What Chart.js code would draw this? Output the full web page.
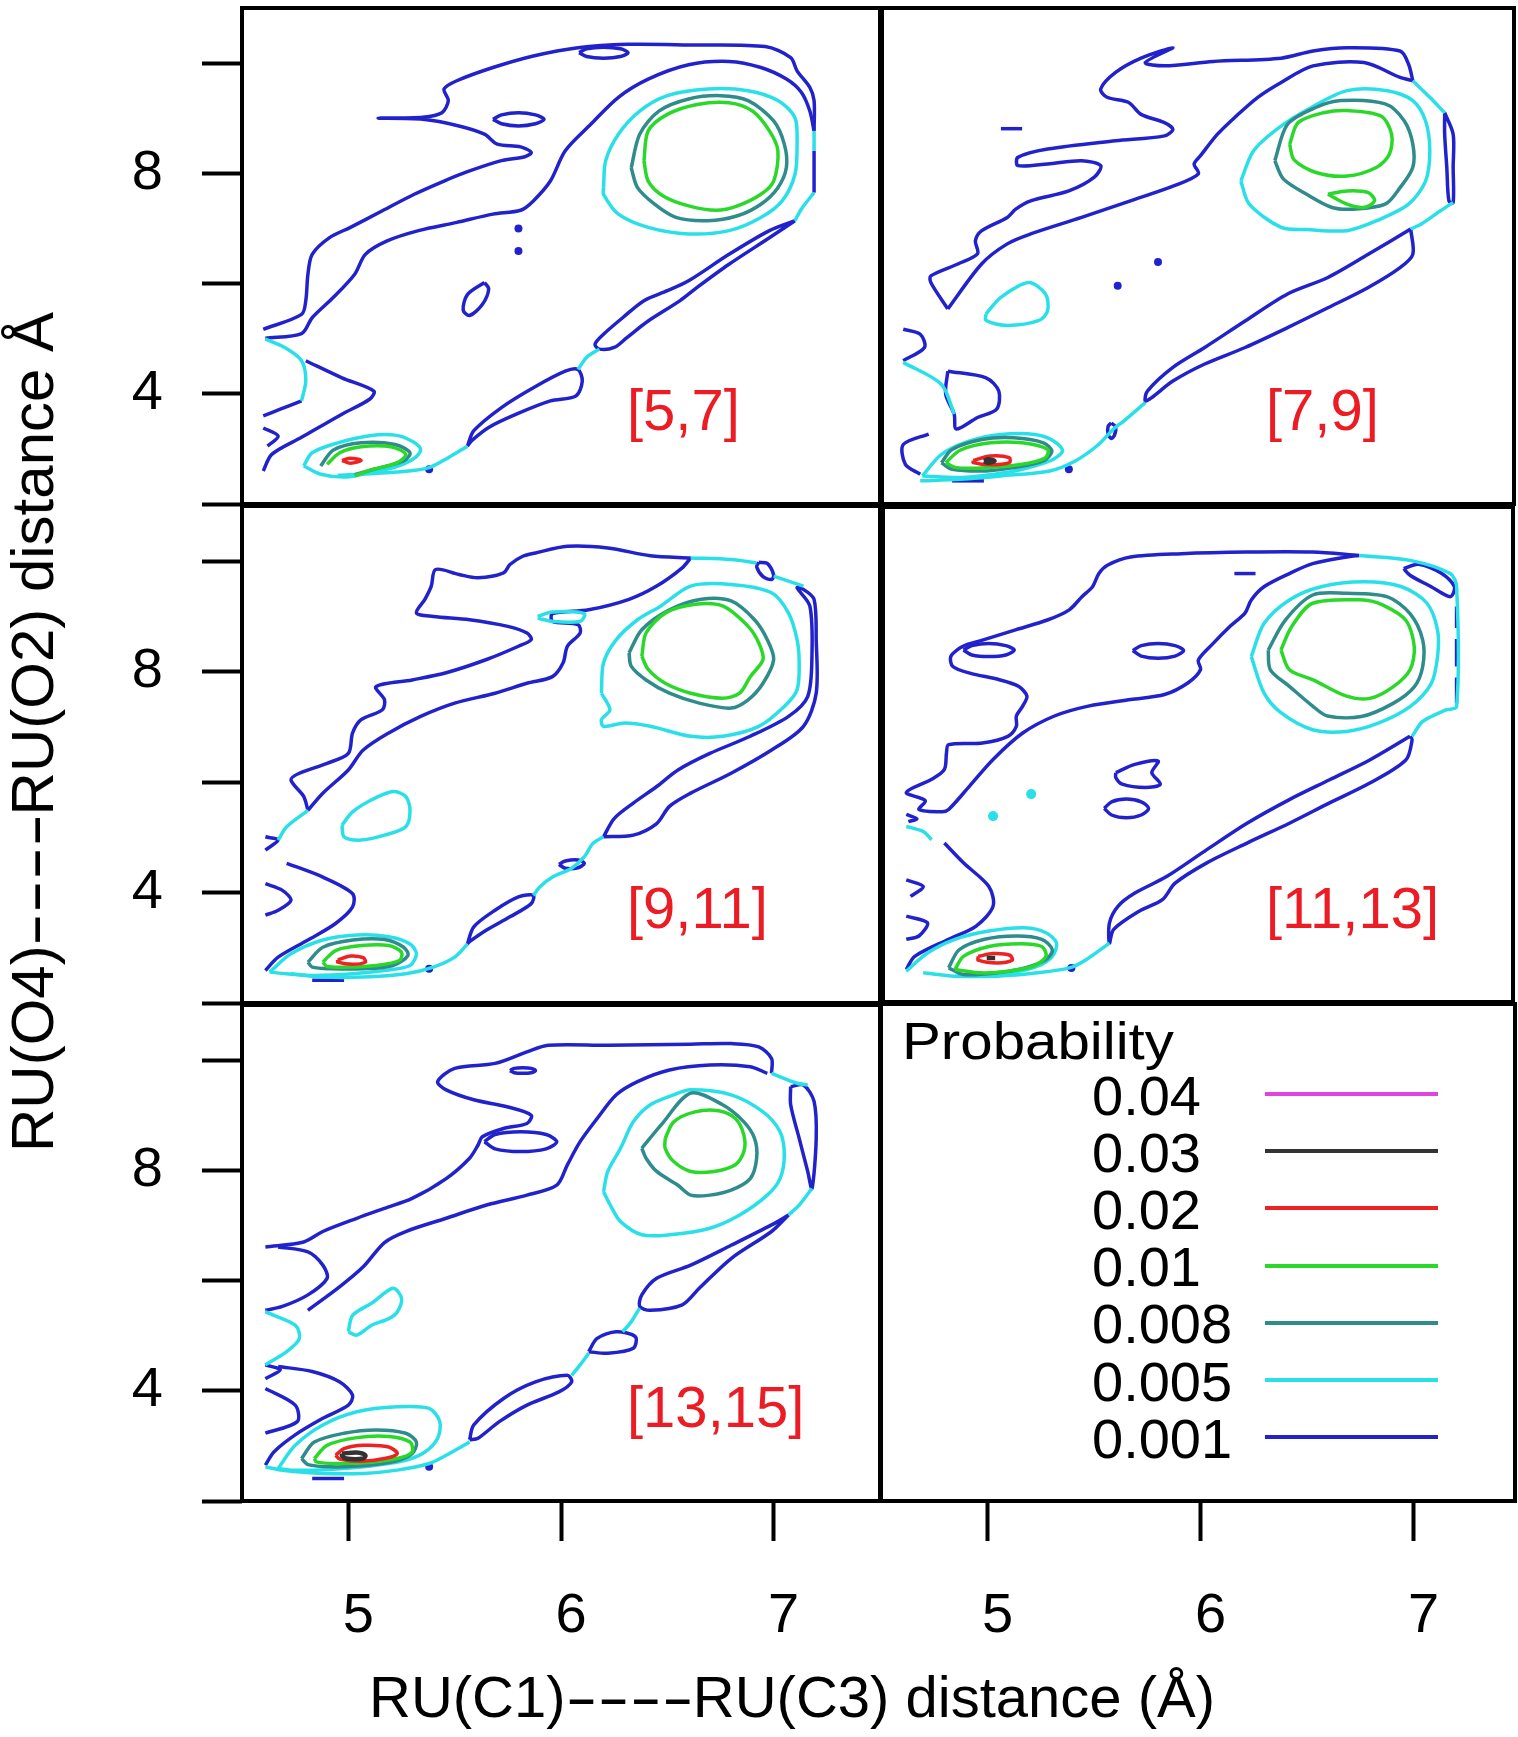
<!DOCTYPE html>
<html>
<head>
<meta charset="utf-8">
<title>Probability contours</title>
<script src="https://cdn.jsdelivr.net/npm/chart.js@4.4.1/dist/chart.umd.min.js"></script>
<style>
  html, body { margin: 0; padding: 0; background: #fff; }
  #fig { position: relative; width: 1518px; height: 1737px; overflow: hidden;
         font-family: 'Liberation Sans', Arial, Helvetica, sans-serif; color: #000; }
  #fig canvas { position: absolute; }
  .txt { position: absolute; white-space: nowrap; line-height: 1; }
  .tag { color: #ec1c24; font-size: 58px; }
  .title { font-size: 58px; }
  .dash { display: inline-block; transform: scaleX(1.66); margin: 0 25px; }
  .key { position: absolute; height: 4px; }
</style>
</head>
<body>
<div id="fig"></div>
<script>
// ticks and labels
const xTicks = [5, 6, 7];
const yTicks = [2, 4, 6, 8, 10];
const yTickLabels = [4, 8];
const levels = ['0.04', '0.03', '0.02', '0.01', '0.008', '0.005', '0.001'];
const panelTags = ['[5,7]', '[7,9]', '[9,11]', '[11,13]', '[13,15]'];

// contour lines, flat x,y lists (x = RU(C1)-RU(C3), y = RU(O4)-RU(O2))
// panel [5,7]
const p5_7_001 = [
  [4.60,5.17, 4.78,5.44, 4.80,5.69, 4.81,6.17, 4.83,6.53, 4.91,6.83, 5.01,7.02, 5.16,7.32, 5.31,7.62, 5.45,7.86, 5.56,8.03, 5.72,8.23, 5.83,8.30, 5.86,8.38, 5.81,8.48, 5.70,8.53, 5.64,8.71, 5.52,8.86, 5.35,8.98, 5.14,9.00, 5.35,9.02, 5.44,9.10, 5.47,9.32, 5.45,9.53, 5.51,9.68, 5.68,9.92, 5.87,10.13, 6.08,10.28, 6.31,10.34, 6.60,10.33, 6.96,10.30, 7.08,10.10, 7.11,9.86, 7.17,9.56, 7.19,9.32, 7.19,8.77],
  [7.19,8.41, 7.19,7.65],
  [4.61,5.01, 4.78,5.09, 4.83,5.38, 4.93,5.75, 5.03,6.17, 5.08,6.53, 5.18,6.77, 5.33,6.96, 5.51,7.11, 5.68,7.26, 5.81,7.33, 5.87,7.50, 5.95,7.86, 6.02,8.41, 6.14,8.89, 6.27,9.38, 6.41,9.71, 6.60,9.97, 6.79,10.03, 6.94,9.92, 7.06,9.71, 7.13,9.47, 7.17,9.13, 7.19,8.77],
  [7.10,7.14, 6.98,6.96, 6.79,6.53, 6.60,6.05, 6.50,5.87, 6.39,5.69, 6.29,5.38, 6.20,5.08, 6.16,4.90, 6.18,4.81, 6.25,4.84, 6.31,5.02, 6.41,5.32, 6.56,5.69, 6.64,5.93, 6.79,6.35, 6.98,6.83, 7.10,7.14],
  [5.56,3.05, 5.59,3.33, 5.72,3.75, 5.87,4.11, 6.02,4.41, 6.08,4.44, 6.10,4.23, 6.07,3.96, 5.95,3.87, 5.79,3.63, 5.66,3.39, 5.58,3.15, 5.56,3.05],
  [4.80,4.60, 4.97,4.29, 5.12,4.05, 5.10,3.90, 4.97,3.63, 4.78,3.21, 4.64,2.90, 4.60,2.60],
  [4.78,3.87, 4.68,3.72, 4.60,3.60],
  [4.60,3.38, 4.67,3.23, 4.62,3.05],
  [6.085,10.19, 6.12,10.26, 6.20,10.29, 6.28,10.26, 6.315,10.19, 6.28,10.12, 6.20,10.09, 6.12,10.12, 6.085,10.19],
  [5.68,8.98, 5.72,9.06, 5.80,9.10, 5.88,9.06, 5.92,8.98, 5.88,8.90, 5.80,8.86, 5.72,8.90, 5.68,8.98],
  [5.64,6.02, 5.66,5.90, 5.63,5.62, 5.57,5.42, 5.54,5.52, 5.56,5.80, 5.64,6.02]
];
const p5_7_dots = [5.80,7.00, 5.80,6.59, 5.38,2.63];
const p5_7_005 = [
  [6.20,7.74, 6.21,8.23, 6.27,8.71, 6.37,9.13, 6.50,9.41, 6.69,9.53, 6.88,9.50, 7.02,9.32, 7.10,9.01, 7.11,8.53, 7.10,7.98, 7.04,7.50, 6.94,7.20, 6.79,6.96, 6.60,6.90, 6.41,7.02, 6.27,7.26, 6.20,7.62, 6.20,7.74],
  [7.19,8.77, 7.19,8.41],
  [7.19,7.65, 7.13,7.35, 7.10,7.14],
  [6.18,4.81, 6.12,4.66, 6.08,4.44],
  [5.56,3.05, 5.47,2.84, 5.38,2.66, 5.26,2.59, 5.06,2.54, 4.95,2.52],
  [4.79,2.69, 4.83,2.93, 4.95,3.11, 5.10,3.24, 5.22,3.25, 5.30,3.14, 5.34,2.99, 5.31,2.83, 5.22,2.67, 5.10,2.57, 4.99,2.49, 4.87,2.54, 4.79,2.69],
  [4.61,4.99, 4.70,4.84, 4.78,4.60, 4.80,4.24, 4.78,3.87]
];
const p5_7_008 = [
  [6.33,8.10, 6.37,8.71, 6.46,9.13, 6.60,9.35, 6.75,9.41, 6.88,9.32, 7.00,8.95, 7.05,8.53, 7.06,8.11, 7.02,7.74, 6.94,7.44, 6.83,7.23, 6.69,7.14, 6.54,7.20, 6.44,7.44, 6.36,7.74, 6.33,8.10],
  [4.87,2.69, 4.93,2.98, 5.06,3.11, 5.22,3.08, 5.29,2.93, 5.26,2.78, 5.12,2.63, 5.03,2.53]
];
const p5_7_01 = [
  [6.39,8.23, 6.41,8.77, 6.50,9.07, 6.64,9.25, 6.79,9.28, 6.90,9.13, 6.98,8.77, 7.02,8.41, 7.00,7.86, 6.94,7.62, 6.83,7.41, 6.73,7.33, 6.60,7.41, 6.48,7.59, 6.41,7.86, 6.39,8.23],
  [4.90,2.72, 4.96,2.93, 5.06,3.04, 5.20,3.04, 5.27,2.90, 5.23,2.75, 5.10,2.61, 5.03,2.51]
];
const p5_7_02 = [
  [4.97,2.79, 5.01,2.83, 5.06,2.79, 5.01,2.74, 4.97,2.79]
];

// panel [7,9]
const p7_9_001 = [
  [4.81,5.54, 4.73,6.02, 4.73,6.14, 4.86,6.36, 4.95,6.54, 4.94,6.78, 4.97,6.96, 5.09,7.20, 5.13,7.35, 5.20,7.50, 5.38,7.68, 5.50,7.93, 5.53,8.14, 5.44,8.23, 5.28,8.17, 5.14,8.14, 5.14,8.29, 5.28,8.44, 5.60,8.59, 5.83,8.68, 5.87,8.80, 5.83,8.92, 5.72,9.07, 5.66,9.29, 5.56,9.38, 5.53,9.53, 5.60,9.83, 5.72,10.09, 5.87,10.28, 5.74,10.01, 5.83,9.95, 6.06,10.03, 6.38,10.09, 6.53,10.22, 6.69,10.28, 6.94,10.22, 6.98,9.98, 7.00,9.68],
  [4.81,5.54, 4.97,6.36, 5.09,6.72, 5.20,6.90, 5.44,7.20, 5.67,7.50, 5.88,7.78, 5.99,7.99, 5.97,8.17, 6.00,8.32, 6.08,8.71, 6.16,9.01, 6.27,9.38, 6.38,9.65, 6.53,9.95, 6.77,10.01, 6.94,9.74, 7.00,9.68],
  [5.06,8.81, 5.16,8.81],
  [7.15,9.10, 7.19,8.71, 7.19,8.11, 7.19,7.47, 7.17,7.50, 7.16,8.11, 7.15,8.71, 7.15,9.10],
  [6.99,6.99, 6.79,6.53, 6.60,6.11, 6.41,5.81, 6.21,5.32, 6.02,4.84, 5.87,4.48, 5.75,4.05, 5.74,3.87, 5.77,3.93, 5.87,4.23, 6.02,4.54, 6.21,4.84, 6.41,5.20, 6.60,5.56, 6.79,5.93, 6.94,6.29, 7.00,6.53, 6.99,6.99],
  [5.58,3.47, 5.60,3.40, 5.595,3.25, 5.58,3.19, 5.565,3.26, 5.565,3.41, 5.58,3.47],
  [4.81,4.41, 4.99,4.29, 5.05,4.05, 5.04,3.72, 4.95,3.57, 4.85,3.36, 4.84,3.63, 4.80,3.99, 4.81,4.41],
  [4.60,5.17, 4.68,5.08, 4.70,4.84, 4.60,4.60],
  [4.72,3.27, 4.60,3.08, 4.61,2.72, 4.68,2.54],
  [4.83,2.42, 4.98,2.42]
];
const p7_9_dots = [5.38,2.63, 5.61,5.96, 5.80,6.39];
const p7_9_005 = [
  [6.19,7.86, 6.25,8.41, 6.37,8.83, 6.52,9.19, 6.69,9.50, 6.88,9.50, 7.00,9.32, 7.06,8.95, 7.08,8.41, 7.06,7.86, 6.98,7.44, 6.83,7.14, 6.69,6.96, 6.50,6.98, 6.38,7.02, 6.23,7.44, 6.19,7.86],
  [7.00,9.68, 7.08,9.38, 7.15,9.10],
  [7.19,7.47, 7.13,7.32, 7.04,7.08, 6.99,6.99],
  [5.74,3.84, 5.64,3.51, 5.59,3.36, 5.52,3.08, 5.41,2.78, 5.29,2.60, 5.06,2.51, 4.87,2.45, 4.68,2.42],
  [4.99,5.45, 5.06,5.75, 5.19,6.02, 5.27,5.81, 5.28,5.51, 5.24,5.33, 5.09,5.24, 4.99,5.33, 4.99,5.45],
  [4.69,2.51, 4.78,2.90, 4.91,3.14, 5.06,3.26, 5.22,3.26, 5.31,3.14, 5.35,2.96, 5.29,2.78, 5.16,2.63, 5.03,2.54, 4.87,2.48, 4.69,2.51],
  [4.60,4.57, 4.78,4.17, 4.84,3.63]
];
const p7_9_008 = [
  [6.35,8.23, 6.41,8.89, 6.54,9.19, 6.66,9.32, 6.87,9.26, 6.96,8.95, 7.00,8.53, 7.00,8.11, 6.94,7.74, 6.87,7.44, 6.72,7.35, 6.62,7.38, 6.50,7.62, 6.39,7.90, 6.35,8.23],
  [4.78,2.75, 4.83,2.99, 4.97,3.17, 5.12,3.20, 5.26,3.11, 5.30,2.96, 5.26,2.78, 5.12,2.66, 4.99,2.60, 4.83,2.63, 4.78,2.75]
];
const p7_9_01 = [
  [6.42,8.53, 6.46,8.92, 6.58,9.10, 6.69,9.14, 6.85,9.04, 6.90,8.71, 6.89,8.35, 6.83,8.11, 6.69,7.95, 6.54,8.02, 6.44,8.25, 6.42,8.53],
  [6.60,7.62, 6.69,7.68, 6.79,7.65, 6.82,7.50, 6.77,7.38, 6.69,7.44, 6.60,7.62],
  [4.80,2.75, 4.87,2.98, 5.01,3.11, 5.16,3.11, 5.28,2.99, 5.27,2.84, 5.16,2.72, 4.99,2.66, 4.85,2.66, 4.80,2.75]
];
const p7_9_02 = [
  [4.93,2.79, 5.01,2.87, 5.10,2.84, 5.10,2.75, 5.01,2.71, 4.93,2.75, 4.93,2.79]
];
const p7_9_03 = [
  [4.98,2.78, 5.00,2.81, 5.03,2.78, 5.00,2.75, 4.98,2.78]
];

// panel [9,11]
const p9_11_001 = [
  [4.81,5.49, 4.79,5.74, 4.73,6.04, 4.77,6.16, 4.90,6.34, 5.00,6.52, 5.02,6.89, 5.06,7.13, 5.16,7.31, 5.17,7.49, 5.13,7.73, 5.30,7.85, 5.46,7.98, 5.65,8.22, 5.80,8.46, 5.86,8.58, 5.84,8.70, 5.75,8.82, 5.57,8.94, 5.40,9.00, 5.32,9.06, 5.36,9.31, 5.39,9.55, 5.41,9.85, 5.52,9.76, 5.61,9.70, 5.73,9.79, 5.76,9.94, 5.82,10.09, 5.88,10.15, 6.03,10.27, 6.22,10.24, 6.42,10.10, 6.61,10.06],
  [4.81,5.49, 4.88,5.80, 5.00,6.22, 5.07,6.58, 5.19,6.89, 5.34,7.19, 5.50,7.43, 5.69,7.61, 5.84,7.79, 5.96,7.91, 6.01,8.16, 6.03,8.46, 6.09,8.70, 6.08,8.85, 5.96,8.91, 5.96,9.05, 6.13,9.12, 6.32,9.31, 6.45,9.55, 6.57,9.88, 6.61,10.06],
  [6.93,9.98, 6.97,9.96, 7.00,9.75, 6.99,9.67, 6.95,9.72, 6.92,9.90, 6.93,9.98],
  [6.20,5.01, 6.25,5.34, 6.34,5.62, 6.45,5.92, 6.55,6.22, 6.70,6.52, 6.89,6.83, 7.07,7.19, 7.16,7.55, 7.18,8.28, 7.17,9.19, 7.11,9.52, 7.14,9.49, 7.19,9.31, 7.20,8.58, 7.20,7.61, 7.14,7.01, 6.99,6.58, 6.80,6.16, 6.61,5.80, 6.51,5.56, 6.45,5.25, 6.34,5.04, 6.20,5.01],
  [5.99,4.51, 6.02,4.57, 6.08,4.59, 6.11,4.53, 6.08,4.45, 6.02,4.44, 5.99,4.51],
  [5.56,3.07, 5.59,3.38, 5.69,3.68, 5.80,3.92, 5.87,3.95, 5.86,3.80, 5.76,3.56, 5.65,3.32, 5.57,3.11, 5.56,3.07],
  [4.71,4.53, 4.88,4.28, 5.02,3.98, 5.02,3.74, 4.94,3.44, 4.81,3.14, 4.67,2.83, 4.61,2.59],
  [4.61,5.01, 4.67,4.95, 4.61,4.77],
  [4.61,4.16, 4.69,4.04, 4.73,3.86, 4.67,3.68, 4.61,3.59],
  [4.83,2.41, 4.98,2.41]
];
const p9_11_dots = [5.38,2.62];
const p9_11_005 = [
  [6.19,7.61, 6.20,8.16, 6.26,8.58, 6.36,8.94, 6.47,9.19, 6.61,9.55, 6.80,9.58, 6.99,9.43, 7.07,9.06, 7.11,8.58, 7.12,8.16, 7.11,7.67, 7.05,7.37, 6.93,7.01, 6.76,6.83, 6.61,6.83, 6.42,7.01, 6.30,7.07, 6.20,7.01, 6.19,7.13, 6.23,7.31, 6.19,7.61],
  [6.61,10.06, 6.80,10.03, 6.92,9.97],
  [7.00,9.73, 7.14,9.55],
  [5.89,9.00, 5.96,9.08, 6.11,9.05, 6.09,8.91, 5.96,8.91, 5.89,8.97],
  [6.20,5.01, 6.15,4.89, 6.11,4.65, 6.05,4.44, 5.96,4.28, 5.90,4.10, 5.87,3.95],
  [5.56,3.07, 5.50,2.83, 5.40,2.65, 5.27,2.53, 5.07,2.47, 4.88,2.47, 4.73,2.53],
  [4.97,5.22, 5.02,5.46, 5.11,5.68, 5.21,5.83, 5.27,5.74, 5.29,5.49, 5.27,5.19, 5.17,5.04, 5.06,4.95, 4.98,5.01, 4.97,5.22],
  [4.63,2.56, 4.73,2.89, 4.88,3.14, 5.04,3.23, 5.19,3.20, 5.29,3.07, 5.32,2.89, 5.29,2.68, 5.17,2.59, 5.02,2.53, 4.84,2.50, 4.71,2.53, 4.63,2.56],
  [4.81,5.49, 4.71,5.19, 4.67,4.95]
];
const p9_11_008 = [
  [6.32,8.34, 6.38,8.76, 6.51,9.12, 6.66,9.31, 6.80,9.28, 6.91,8.94, 6.97,8.58, 7.00,8.22, 6.95,7.79, 6.88,7.49, 6.80,7.34, 6.65,7.43, 6.51,7.61, 6.40,7.85, 6.33,8.10, 6.32,8.34],
  [4.81,2.74, 4.88,3.01, 5.02,3.14, 5.17,3.15, 5.26,3.01, 5.28,2.86, 5.21,2.68, 5.07,2.62, 4.92,2.62, 4.83,2.65, 4.81,2.74]
];
const p9_11_01 = [
  [6.38,8.28, 6.40,8.70, 6.49,9.06, 6.63,9.22, 6.76,9.19, 6.88,8.82, 6.93,8.52, 6.95,8.22, 6.89,7.91, 6.84,7.61, 6.76,7.52, 6.61,7.61, 6.49,7.79, 6.41,8.04, 6.38,8.28],
  [4.88,2.74, 4.94,2.95, 5.06,3.04, 5.19,3.04, 5.25,2.92, 5.24,2.77, 5.13,2.68, 5.00,2.65, 4.90,2.66, 4.88,2.74]
];
const p9_11_02 = [
  [4.95,2.78, 5.01,2.85, 5.07,2.82, 5.08,2.74, 5.02,2.70, 4.95,2.74, 4.95,2.78]
];

// panel [11,13]
const p11_13_001 = [
  [6.75,10.12, 6.53,10.18, 6.22,10.18, 5.91,10.15, 5.67,10.09, 5.56,9.94, 5.52,9.79, 5.49,9.55, 5.44,9.37, 5.38,9.13, 5.28,8.95, 5.13,8.77, 4.97,8.58, 4.89,8.49, 4.86,8.43, 4.82,8.28, 4.83,8.10, 4.91,7.98, 5.05,7.86, 5.14,7.74, 5.18,7.56, 5.16,7.38, 5.13,7.20, 5.13,7.01, 5.09,6.83, 4.97,6.71, 4.81,6.68, 4.80,6.53, 4.79,6.23, 4.73,6.05, 4.61,5.81, 4.70,5.66, 4.67,5.50, 4.78,5.46, 4.81,5.50, 4.91,5.93, 5.02,6.41, 5.16,6.89, 5.31,7.20, 5.47,7.38, 5.67,7.50, 5.83,7.59, 5.94,7.80, 6.00,8.04, 5.99,8.22, 6.06,8.52, 6.14,8.83, 6.21,9.07, 6.24,9.31, 6.30,9.55, 6.42,9.79, 6.53,9.97, 6.69,10.09, 6.75,10.12],
  [4.61,5.41, 4.66,5.33, 4.62,5.28],
  [4.88,8.40, 4.92,8.48, 5.00,8.52, 5.08,8.48, 5.12,8.40, 5.08,8.31, 5.00,8.28, 4.92,8.31, 4.88,8.40],
  [5.68,8.39, 5.72,8.48, 5.80,8.52, 5.88,8.48, 5.92,8.39, 5.88,8.29, 5.80,8.25, 5.72,8.29, 5.68,8.39],
  [6.16,9.79, 6.26,9.79],
  [6.96,9.88, 7.03,9.96, 7.14,9.79, 7.20,9.55, 7.18,9.37, 7.09,9.55, 6.99,9.76, 6.96,9.88],
  [7.21,9.19, 7.21,8.80], [7.21,8.60, 7.21,8.10], [7.21,7.90, 7.21,7.43],
  [5.60,6.17, 5.69,6.32, 5.80,6.38, 5.77,6.17, 5.81,5.96, 5.74,5.90, 5.63,5.96, 5.60,6.08, 5.60,6.17],
  [5.545,5.52, 5.58,5.64, 5.65,5.69, 5.72,5.64, 5.755,5.52, 5.72,5.40, 5.65,5.35, 5.58,5.40, 5.545,5.52],
  [6.99,6.83, 6.80,6.40, 6.61,6.04, 6.42,5.68, 6.22,5.25, 6.03,4.77, 5.84,4.28, 5.69,3.98, 5.61,3.74, 5.57,3.44, 5.57,3.07, 5.59,3.32, 5.71,3.65, 5.82,3.86, 5.88,4.16, 6.03,4.53, 6.22,4.89, 6.42,5.25, 6.61,5.62, 6.80,5.98, 6.97,6.40, 7.00,6.77, 6.99,6.83],
  [4.79,4.89, 4.88,4.53, 5.00,4.10, 5.02,3.74, 4.94,3.38, 4.81,3.14, 4.65,2.83, 4.61,2.59],
  [4.61,4.22, 4.69,4.10, 4.63,3.92],
  [4.61,3.56, 4.71,3.44, 4.67,3.20, 4.61,3.14]
];
const p11_13_dots = [5.39,2.62];
const p11_13_005 = [
  [6.24,8.28, 6.30,8.88, 6.42,9.31, 6.57,9.55, 6.77,9.64, 6.95,9.55, 7.07,9.25, 7.12,8.76, 7.12,8.28, 7.09,7.79, 6.99,7.37, 6.84,7.07, 6.69,6.92, 6.53,6.95, 6.38,7.26, 6.30,7.62, 6.24,8.28],
  [6.75,10.12, 6.99,10.03, 7.18,9.79, 7.21,9.55, 7.21,7.37, 7.16,7.31, 7.05,7.10, 7.00,6.83],
  [5.57,3.07, 5.46,2.77, 5.38,2.62, 5.23,2.53, 5.04,2.47, 4.84,2.47, 4.69,2.53],
  [4.61,5.19, 4.69,5.10, 4.73,4.95],
  [4.61,2.56, 4.71,2.89, 4.84,3.14, 5.00,3.29, 5.17,3.35, 5.27,3.26, 5.32,3.07, 5.30,2.83, 5.23,2.65, 5.11,2.53, 4.98,2.47, 4.84,2.47]
];
const p11_13_cdots = [5.20,5.78, 5.02,5.38];
const p11_13_008 = [
  [6.32,8.40, 6.40,8.94, 6.53,9.40, 6.69,9.43, 6.88,9.37, 6.99,9.06, 7.05,8.58, 7.05,8.10, 7.01,7.73, 6.91,7.43, 6.76,7.19, 6.60,7.20, 6.53,7.38, 6.42,7.74, 6.33,8.04, 6.32,8.40],
  [4.81,2.62, 4.86,2.95, 4.98,3.14, 5.13,3.20, 5.25,3.14, 5.30,2.95, 5.27,2.77, 5.17,2.62, 5.04,2.53, 4.88,2.50, 4.81,2.62]
];
const p11_13_01 = [
  [6.38,8.40, 6.43,8.82, 6.53,9.25, 6.77,9.31, 6.86,9.22, 6.97,8.94, 7.01,8.46, 6.99,8.04, 6.91,7.73, 6.80,7.52, 6.69,7.56, 6.53,7.86, 6.42,8.04, 6.38,8.40],
  [4.84,2.59, 4.88,2.83, 5.00,3.01, 5.15,3.06, 5.25,3.01, 5.27,2.83, 5.21,2.65, 5.09,2.56, 4.96,2.53, 4.84,2.59]
];
const p11_13_02 = [
  [4.95,2.83, 5.02,2.88, 5.10,2.85, 5.11,2.76, 5.04,2.71, 4.95,2.76, 4.95,2.83]
];
const p11_13_03 = [
  [4.99,2.80, 5.03,2.80]
];

// panel [13,15]
const p13_15_001 = [
  [4.61,6.61, 4.79,6.70, 4.88,6.89, 5.04,7.13, 5.17,7.31, 5.30,7.49, 5.46,7.85, 5.57,8.22, 5.61,8.46, 5.63,8.61, 5.73,8.76, 5.84,8.85, 5.86,9.00, 5.75,9.15, 5.59,9.28, 5.46,9.46, 5.42,9.61, 5.50,9.85, 5.69,9.94, 5.84,10.15, 5.94,10.27, 6.22,10.27, 6.61,10.29, 6.80,10.30, 6.93,10.24, 6.99,10.03, 6.99,9.76],
  [4.67,6.61, 4.81,6.52, 4.88,6.28, 4.90,6.04, 4.81,5.74, 4.69,5.53, 4.61,5.46],
  [4.81,5.46, 4.96,5.89, 5.07,6.25, 5.17,6.69, 5.27,6.89, 5.46,7.13, 5.65,7.37, 5.84,7.55, 5.98,7.73, 6.03,8.10, 6.09,8.52, 6.17,8.94, 6.26,9.37, 6.36,9.61, 6.51,9.82, 6.70,9.91, 6.89,9.88, 6.97,9.76],
  [5.76,9.81, 5.78,9.85, 5.82,9.86, 5.86,9.85, 5.88,9.81, 5.86,9.77, 5.82,9.76, 5.78,9.77, 5.76,9.81],
  [5.64,8.52, 5.69,8.65, 5.81,8.70, 5.93,8.65, 5.98,8.52, 5.93,8.39, 5.81,8.34, 5.69,8.39, 5.64,8.52],
  [7.08,9.52, 7.14,9.55, 7.19,9.25, 7.20,8.58, 7.18,7.67, 7.16,7.98, 7.12,8.58, 7.08,9.19, 7.08,9.52],
  [7.07,7.19, 6.99,7.01, 6.80,6.64, 6.61,6.28, 6.45,6.04, 6.38,5.74, 6.37,5.53, 6.42,5.46, 6.57,5.56, 6.65,5.86, 6.80,6.40, 6.99,6.89, 7.07,7.19],
  [6.13,4.71, 6.17,4.95, 6.26,5.07, 6.35,4.98, 6.34,4.77, 6.22,4.68, 6.13,4.71],
  [5.57,3.11, 5.59,3.38, 5.73,3.86, 5.88,4.16, 6.03,4.28, 6.05,4.16, 5.99,3.98, 5.84,3.74, 5.71,3.44, 5.61,3.14, 5.57,3.11],
  [4.67,4.44, 4.83,4.35, 4.96,4.16, 5.02,3.92, 5.00,3.74, 4.88,3.50, 4.75,3.20, 4.65,2.89, 4.61,2.65],
  [4.61,4.47, 4.68,4.38, 4.61,4.22],
  [4.61,4.04, 4.75,3.74, 4.76,3.44, 4.61,3.23],
  [4.83,2.41, 4.98,2.41]
];
const p13_15_dots = [5.38,2.62];
const p13_15_005 = [
  [6.20,7.61, 6.22,7.98, 6.28,8.40, 6.34,8.88, 6.42,9.19, 6.53,9.37, 6.61,9.46, 6.80,9.37, 6.95,9.06, 7.03,8.70, 7.05,8.28, 7.03,7.85, 6.97,7.55, 6.84,7.19, 6.70,6.95, 6.51,6.83, 6.38,6.83, 6.28,7.07, 6.24,7.31, 6.20,7.61],
  [6.99,9.76, 7.11,9.58, 7.16,9.55],
  [7.18,7.67, 7.12,7.37, 7.07,7.19],
  [6.37,5.50, 6.33,5.25, 6.29,5.07],
  [6.13,4.68, 6.09,4.47, 6.05,4.28],
  [5.57,3.07, 5.46,2.83, 5.38,2.68, 5.23,2.56, 5.07,2.50, 4.88,2.50, 4.69,2.56, 4.61,2.62],
  [5.00,5.07, 5.02,5.37, 5.11,5.59, 5.21,5.86, 5.25,5.68, 5.23,5.43, 5.19,5.31, 5.11,5.19, 5.04,5.01, 5.00,5.07],
  [4.67,2.59, 4.75,3.01, 4.88,3.38, 5.04,3.62, 5.23,3.71, 5.38,3.68, 5.43,3.44, 5.42,3.14, 5.36,2.89, 5.27,2.74, 5.13,2.65, 4.98,2.59, 4.84,2.56, 4.73,2.56, 4.67,2.59],
  [4.61,5.43, 4.75,5.19, 4.77,4.95, 4.71,4.71, 4.61,4.47]
];
const p13_15_008 = [
  [6.38,8.40, 6.47,8.82, 6.61,9.40, 6.76,9.19, 6.86,8.88, 6.91,8.58, 6.92,8.22, 6.89,7.85, 6.80,7.64, 6.70,7.55, 6.61,7.55, 6.55,7.73, 6.45,7.98, 6.40,8.22, 6.38,8.40],
  [4.78,2.77, 4.84,3.07, 4.98,3.23, 5.13,3.29, 5.27,3.23, 5.32,3.07, 5.30,2.86, 5.21,2.71, 5.07,2.64, 4.92,2.62, 4.81,2.66, 4.78,2.77]
];
const p13_15_01 = [
  [6.49,8.58, 6.53,8.88, 6.63,9.06, 6.74,9.08, 6.82,8.94, 6.86,8.64, 6.86,8.34, 6.82,8.10, 6.72,7.98, 6.61,7.98, 6.53,8.16, 6.49,8.40, 6.49,8.58],
  [4.84,2.77, 4.90,3.01, 5.04,3.15, 5.19,3.17, 5.29,3.07, 5.30,2.89, 5.23,2.77, 5.09,2.70, 4.94,2.68, 4.85,2.71, 4.84,2.77]
];
const p13_15_02 = [
  [4.94,2.83, 4.98,2.95, 5.07,3.01, 5.19,2.98, 5.23,2.86, 5.17,2.77, 5.06,2.72, 4.96,2.76, 4.94,2.83]
];
const p13_15_03 = [
  [4.97,2.86, 5.04,2.88, 5.08,2.83, 5.07,2.77, 4.99,2.77, 4.97,2.82, 4.97,2.86]
];

// styles
const levelColor = {
  '0.04': '#e044e0', '0.03': '#333333', '0.02': '#ee2222', '0.01': '#2ad82a',
  '0.008': '#2e8c8c', '0.005': '#2ae0e8', '0.001': '#2222cc'
};

const panelLines = [
  { '0.02': p5_7_02, '0.01': p5_7_01, '0.008': p5_7_008, '0.005': p5_7_005, '0.001': p5_7_001 },
  { '0.03': p7_9_03, '0.02': p7_9_02, '0.01': p7_9_01, '0.008': p7_9_008, '0.005': p7_9_005, '0.001': p7_9_001 },
  { '0.02': p9_11_02, '0.01': p9_11_01, '0.008': p9_11_008, '0.005': p9_11_005, '0.001': p9_11_001 },
  { '0.03': p11_13_03, '0.02': p11_13_02, '0.01': p11_13_01, '0.008': p11_13_008, '0.005': p11_13_005, '0.001': p11_13_001 },
  { '0.03': p13_15_03, '0.02': p13_15_02, '0.01': p13_15_01, '0.008': p13_15_008, '0.005': p13_15_005, '0.001': p13_15_001 }
];
const panelDots = [
  { '0.001': p5_7_dots },
  { '0.001': p7_9_dots },
  { '0.001': p9_11_dots },
  { '0.005': p11_13_cdots, '0.001': p11_13_dots },
  { '0.001': p13_15_dots }
];

// layout of the lattice
const colEdge = [242, 881, 1515];
const rowEdge = [7, 505, 1004, 1501];
const PX_PER_X = 213;
const PAD = 3;
const AXIS_H = 175;

const fig = document.getElementById('fig');
Chart.defaults.font.family = "'Liberation Sans', Arial, sans-serif";
Chart.defaults.color = '#000';

const framePlugin = {
  id: 'frame',
  afterDraw(chart) {
    const { ctx, chartArea: a } = chart;
    ctx.save();
    ctx.strokeStyle = '#000';
    ctx.lineWidth = 4;
    ctx.strokeRect(a.left, a.top, a.right - a.left, a.bottom - a.top);
    ctx.restore();
  }
};

function toPoints(flat) {
  const out = [];
  for (let i = 0; i < flat.length; i += 2) out.push({ x: flat[i], y: flat[i + 1] });
  return out;
}

function buildDatasets(lines, dots) {
  const ds = [];
  levels.forEach(lv => {
    (lines[lv] || []).forEach(line => {
      ds.push({
        data: toPoints(line),
        showLine: true,
        borderColor: levelColor[lv],
        borderWidth: lv === '0.03' ? 4.5 : 3.5,
        pointRadius: 0,
        tension: 0.3,
        fill: false
      });
    });
    if (dots[lv]) {
      ds.push({
        data: toPoints(dots[lv]),
        showLine: false,
        pointRadius: lv === '0.005' ? 5 : 4,
        pointBackgroundColor: levelColor[lv],
        pointBorderWidth: 0
      });
    }
  });
  return ds;
}

function makePanel(row, col, datasets, showX) {
  const showY = col === 0;
  const L = colEdge[col], R = colEdge[col + 1], T = rowEdge[row], B = rowEdge[row + 1];
  const left = showY ? 0 : L - PAD;
  const top = T - PAD;
  const width = R + PAD - left;
  const height = (B - T) + PAD + (showX ? AXIS_H : PAD);

  const cv = document.createElement('canvas');
  cv.width = width;
  cv.height = height;
  cv.style.left = left + 'px';
  cv.style.top = top + 'px';
  fig.appendChild(cv);

  new Chart(cv, {
    type: 'scatter',
    data: { datasets: datasets },
    options: {
      responsive: false,
      animation: false,
      events: [],
      layout: { padding: { left: showY ? 0 : PAD, right: PAD, top: PAD, bottom: showX ? 0 : PAD } },
      plugins: { legend: { display: false }, tooltip: { enabled: false } },
      scales: {
        x: {
          type: 'linear',
          min: 4.5,
          max: 4.5 + (R - L) / PX_PER_X,
          display: showX,
          afterBuildTicks: s => { s.ticks = xTicks.map(v => ({ value: v })); },
          afterFit: s => {
            if (!showX) return;
            s.height = AXIS_H; s.paddingLeft = 0; s.paddingRight = 0;
          },
          grid: { display: true, drawOnChartArea: false, drawTicks: true, tickLength: 40, tickWidth: 4, tickColor: '#000' },
          border: { display: false },
          ticks: { padding: 42, labelOffset: 10, autoSkip: false, maxRotation: 0, minRotation: 0,
                   font: { size: 56 }, color: '#000', callback: v => String(v) }
        },
        y: {
          type: 'linear',
          min: 2,
          max: 11,
          display: showY,
          afterBuildTicks: s => { s.ticks = yTicks.map(v => ({ value: v })); },
          afterFit: s => {
            if (!showY) return;
            s.width = L; s.paddingTop = 0; s.paddingBottom = 0;
          },
          grid: { display: true, drawOnChartArea: false, drawTicks: true, tickLength: 40, tickWidth: 4, tickColor: '#000' },
          border: { display: false },
          ticks: { padding: 39, autoSkip: false, font: { size: 56 }, color: '#000',
                   callback: v => (yTickLabels.includes(v) ? String(v) : '') }
        }
      }
    },
    plugins: [framePlugin]
  });
  return { L, T };
}

function addText(cls, html, left, top, extra) {
  const d = document.createElement('div');
  d.className = 'txt ' + cls;
  d.innerHTML = html;
  d.style.left = left + 'px';
  d.style.top = top + 'px';
  if (extra) Object.assign(d.style, extra);
  fig.appendChild(d);
  return d;
}

// five contour panels, lattice order: bottom row holds [13,15] and the key
const slots = [[0, 0], [0, 1], [1, 0], [1, 1], [2, 0]];
slots.forEach(([r, c], i) => {
  const pos = makePanel(r, c, buildDatasets(panelLines[i], panelDots[i]), r === 2);
  addText('tag', panelTags[i], pos.L + 385, pos.T + 374);
});

// key panel
makePanel(2, 1, [], true);
addText('', 'Probability', 902, 1015, { fontSize: '52px', transform: 'scaleX(1.12)', transformOrigin: 'left top' });
levels.forEach((lv, i) => {
  const base = 1115 + i * 57.2;
  addText('', lv, 1092, base - 47.4, { fontSize: '56px' });
  const k = document.createElement('div');
  k.className = 'key';
  k.style.left = '1265px';
  k.style.width = '173px';
  k.style.top = (base - 23) + 'px';
  k.style.background = levelColor[lv];
  fig.appendChild(k);
});

// axis titles
addText('title', 'RU(C1)<span class="dash">----</span>RU(C3) distance (&Aring;)', 792, 1668, { transform: 'translateX(-50%)' });
addText('title', 'RU(O4)<span class="dash">----</span>RU(O2) distance &Aring;', 33, 732,
        { transform: 'translate(-50%, -50%) rotate(-90deg)', fontSize: '60px' });
</script>
</body>
</html>
